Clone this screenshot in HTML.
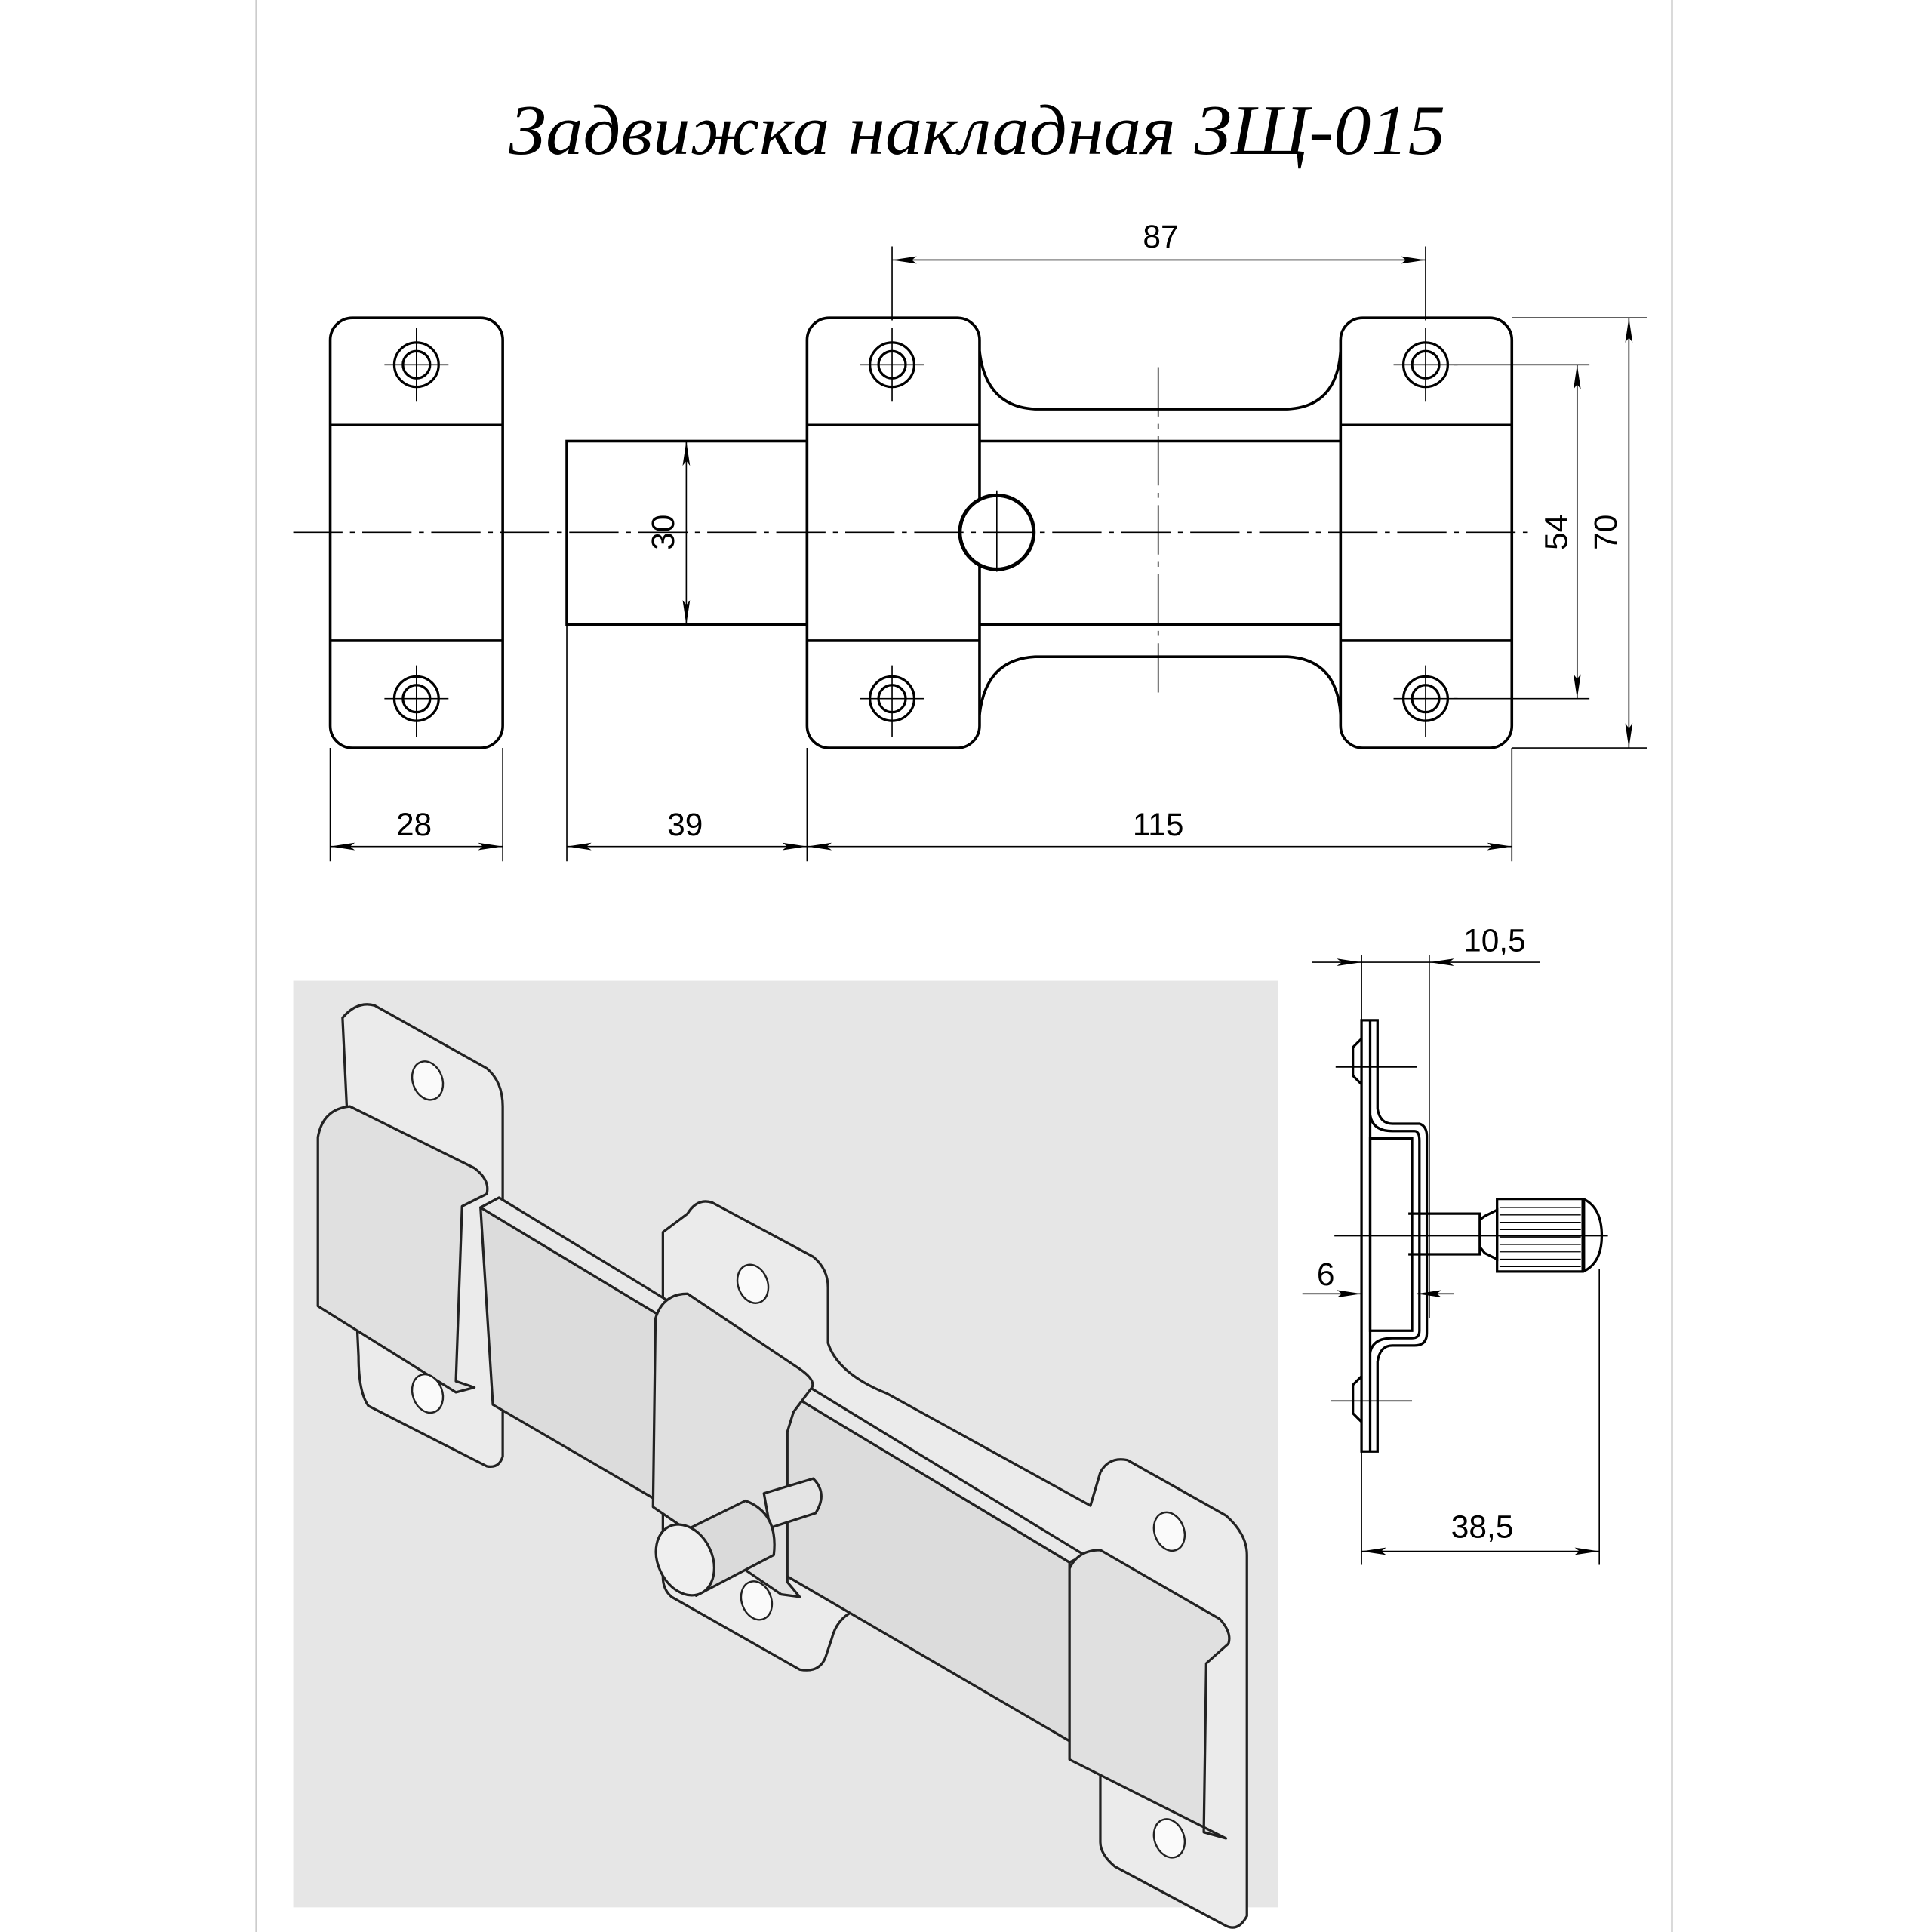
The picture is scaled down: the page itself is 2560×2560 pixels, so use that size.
<!DOCTYPE html>
<html><head><meta charset="utf-8"><style>html,body{margin:0;padding:0;background:#fff}svg{display:block}</style></head>
<body>
<svg width="2560" height="2560" viewBox="0 0 1568 1568" xmlns="http://www.w3.org/2000/svg">
<defs>
<marker id="a" viewBox="0 0 20 6" refX="20" refY="3" markerWidth="20" markerHeight="6" markerUnits="userSpaceOnUse" orient="auto-start-reverse"><path d="M0,0 L20,3 L0,6 L4,3Z" fill="#000"/></marker>
</defs>
<rect width="1568" height="1568" fill="#fff"/>
<line x1="208" y1="0" x2="208" y2="1568" stroke="#ccc" stroke-width="1.5"/>
<line x1="1357" y1="0" x2="1357" y2="1568" stroke="#ccc" stroke-width="1.5"/>
<text x="413" y="125" font-family="Liberation Serif, serif" font-style="italic" font-size="58" textLength="760" lengthAdjust="spacingAndGlyphs">Задвижка накладная ЗЩ-015</text>

<g fill="none" stroke="#000" stroke-width="2.2">
<rect x="268" y="258" width="140" height="349" rx="18" fill="#fff"/>
<line x1="268" y1="345" x2="408" y2="345"/><line x1="268" y1="520" x2="408" y2="520"/>
<rect x="460" y="358" width="195" height="149"/>
<path d="M795,358 L1088,358 M795,507 L1088,507"/>
<path d="M795,285 Q800,330 840,332 L1045,332 Q1085,330 1088,285"/>
<path d="M795,580 Q800,535 840,533 L1045,533 Q1085,535 1088,580"/>
<rect x="655" y="258" width="140" height="349" rx="18" fill="#fff"/>
<rect x="1088" y="258" width="139" height="349" rx="18" fill="#fff"/>
<line x1="655" y1="345" x2="795" y2="345"/><line x1="655" y1="520" x2="795" y2="520"/>
<line x1="1088" y1="345" x2="1227" y2="345"/><line x1="1088" y1="520" x2="1227" y2="520"/>
<circle cx="809" cy="432" r="30" fill="#fff" stroke-width="3"/>
<g stroke-width="2">
<circle cx="338" cy="296" r="18"/><circle cx="338" cy="296" r="11"/>
<circle cx="338" cy="567" r="18"/><circle cx="338" cy="567" r="11"/>
<circle cx="724" cy="296" r="18"/><circle cx="724" cy="296" r="11"/>
<circle cx="724" cy="567" r="18"/><circle cx="724" cy="567" r="11"/>
<circle cx="1157" cy="296" r="18"/><circle cx="1157" cy="296" r="11"/>
<circle cx="1157" cy="567" r="18"/><circle cx="1157" cy="567" r="11"/>
</g>
</g>
<g stroke="#000" stroke-width="1">
<path d="M312,296h52M338,266v60M312,567h52M338,540v58M698,296h52M724,266v60M698,567h52M724,540v58M1131,296h52M1157,266v60M1131,567h52M1157,540v58M809,398v66"/>
<line x1="238" y1="432" x2="1240" y2="432" stroke-dasharray="40,6,4,6"/>
<line x1="940" y1="298" x2="940" y2="568" stroke-dasharray="40,6,4,6"/>
<path d="M724,200v60M1157,200v60M1227,258h110M1227,607h110M1180,296h110M1180,567h110M268,607v92M408,607v92M460,507v192M655,607v92M1227,607v92"/>
<line x1="724" y1="211" x2="1157" y2="211" marker-start="url(#a)" marker-end="url(#a)"/>
<line x1="1280" y1="296" x2="1280" y2="567" marker-start="url(#a)" marker-end="url(#a)"/>
<line x1="1322" y1="258" x2="1322" y2="607" marker-start="url(#a)" marker-end="url(#a)"/>
<line x1="557" y1="358" x2="557" y2="507" marker-start="url(#a)" marker-end="url(#a)"/>
<line x1="268" y1="687" x2="408" y2="687" marker-start="url(#a)" marker-end="url(#a)"/>
<line x1="460" y1="687" x2="655" y2="687" marker-start="url(#a)" marker-end="url(#a)"/>
<line x1="655" y1="687" x2="1227" y2="687" marker-start="url(#a)" marker-end="url(#a)"/>
</g>
<g font-family="Liberation Sans, sans-serif" font-size="26" text-anchor="middle">
<text x="942" y="201">87</text>
<text x="336" y="678">28</text><text x="556" y="678">39</text><text x="940" y="678">115</text>
<text transform="translate(547,432) rotate(-90)">30</text>
<text transform="translate(1272,432) rotate(-90)">54</text>
<text transform="translate(1312,432) rotate(-90)">70</text>
<text x="1213" y="772">10,5</text>
<text x="1076" y="1043">6</text>
<text x="1203" y="1248">38,5</text>
</g>

<g fill="none" stroke="#000" stroke-width="2">
<path d="M1105,828 L1118,828 L1118,900 Q1120,912 1130,912 L1152,912 Q1158,914 1158,922 L1158,1082 Q1158,1092 1148,1092 L1130,1092 Q1120,1092 1118,1105 L1118,1178 L1105,1178 Z"/>
<path d="M1112,828 V1178"/>
<path d="M1112,905 Q1114,918 1130,918 L1148,918 Q1152,918 1152,926 L1152,1080 Q1152,1086 1146,1086 L1130,1086 Q1114,1086 1112,1098"/>
<rect x="1112" y="924" width="34" height="156"/>
<path d="M1105,843 L1098,850 L1098,873 L1105,880 M1105,1117 L1098,1124 L1098,1147 L1105,1154"/>
<path d="M1143,985 H1201 V1018 H1143 M1201,990 L1205,987 L1215,982 V1022 L1205,1017 L1201,1012"/>
<path d="M1215,973 H1285 Q1300,980 1300,1003 Q1300,1025 1285,1032 H1215 Z"/>
<path d="M1285,973 V1032" stroke-width="3"/>
</g>
<g stroke="#000" stroke-width="0.8">
<path d="M1217,980H1283M1217,986H1283M1217,992H1283M1217,998H1283M1217,1004H1283M1217,1010H1283M1217,1016H1283M1217,1022H1283M1217,1028H1283"/>
</g>
<g stroke="#000" stroke-width="1">
<path d="M1105,775V1270M1160,775V1070M1298,1030V1270M1084,866h66M1080,1137h66M1083,1003h222"/>
<line x1="1065" y1="781" x2="1105" y2="781" marker-end="url(#a)"/>
<line x1="1105" y1="781" x2="1160" y2="781"/>
<line x1="1250" y1="781" x2="1160" y2="781" marker-end="url(#a)"/>
<line x1="1057" y1="1050" x2="1105" y2="1050" marker-end="url(#a)"/>
<line x1="1180" y1="1050" x2="1150" y2="1050" marker-end="url(#a)"/>
<line x1="1105" y1="1259" x2="1298" y2="1259" marker-start="url(#a)" marker-end="url(#a)"/>
</g>

<rect x="238" y="796" width="799" height="752" fill="#e6e6e6"/>
<g stroke="#222" stroke-width="2" stroke-linejoin="round">
<path d="M278,826 Q290,812 304,816 L395,867 Q408,878 408,898 L408,1182 Q405,1192 395,1190 L299,1141 Q291,1130 291,1101 Z" fill="#ebebeb"/>
<path d="M558,985 Q566,972 578,976 L660,1020 Q672,1030 672,1045 L672,1090 Q680,1115 720,1131 L885,1222 L893,1195 Q900,1182 915,1185 L995,1230 Q1012,1245 1012,1262 L1012,1555 Q1005,1568 995,1563 L905,1515 Q893,1505 893,1495 L893,1420 L700,1305 Q680,1310 675,1330 L670,1345 Q665,1358 649,1355 L545,1296 Q538,1290 538,1280 L538,1000 Z" fill="#ebebeb"/>
<polygon points="390,980 868,1268 868,1413 400,1140" fill="#dcdcdc"/>
<polygon points="390,980 405,972 880,1262 868,1268" fill="#e8e8e8"/>
<path d="M258,923 Q262,900 284,898 L385,948 Q398,958 395,969 L375,979 L370,1121 L385,1126 L370,1130 L258,1060 Z" fill="#e0e0e0"/>
<path d="M532,1070 Q538,1050 558,1050 L649,1111 Q662,1120 659,1126 L644,1146 L639,1162 L639,1284 L649,1296 L634,1294 L530,1223 Z" fill="#e0e0e0"/>
<path d="M868,1273 Q875,1258 893,1258 L990,1314 Q1000,1325 997,1334 L979,1350 L977,1487 L995,1492 L868,1428 Z" fill="#e0e0e0"/>
<g fill="#fafafa" stroke-width="1.5">
<ellipse cx="347" cy="877" rx="12" ry="16" transform="rotate(-20 347 877)"/>
<ellipse cx="347" cy="1131" rx="12" ry="16" transform="rotate(-20 347 1131)"/>
<ellipse cx="611" cy="1042" rx="12" ry="16" transform="rotate(-20 611 1042)"/>
<ellipse cx="614" cy="1299" rx="12" ry="16" transform="rotate(-20 614 1299)"/>
<ellipse cx="949" cy="1243" rx="12" ry="16" transform="rotate(-20 949 1243)"/>
<ellipse cx="949" cy="1492" rx="12" ry="16" transform="rotate(-20 949 1492)"/>
</g>
<path d="M620,1212 L660,1200 Q672,1212 662,1228 L625,1240 Z" fill="#e4e4e4"/>
<path d="M540,1250 L605,1218 Q632,1228 628,1262 L565,1295 Z" fill="#dadada"/>
<ellipse cx="556" cy="1266" rx="22" ry="30" transform="rotate(-25 556 1266)" fill="#efefef"/>
</g>
</svg>
</body></html>
